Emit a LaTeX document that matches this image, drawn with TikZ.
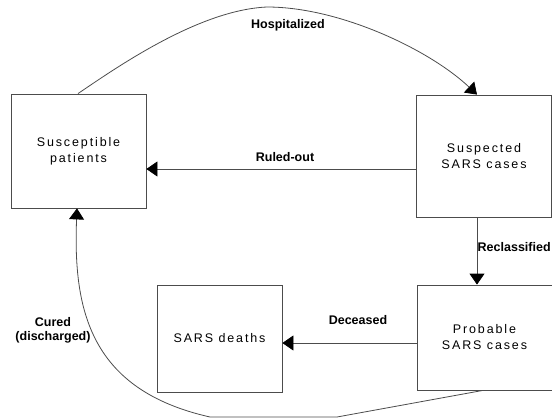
\documentclass[tikz,border=0pt]{standalone}
\usepackage{fontspec}
\setmainfont{Liberation Sans}
\newfontfamily\boxfont[LetterSpace=15]{Liberation Sans}
\usetikzlibrary{arrows.meta}
\begin{document}
\begin{tikzpicture}[x=1pt,y=-1pt,
    state/.style={draw=black!70,line width=0.8pt,inner sep=0pt,align=center,
      font=\boxfont\fontsize{12.5}{16}\selectfont},
    flow/.style={draw=black!70,line width=0.8pt,
      -{Triangle[width=15pt,length=11pt,color=black]}},
    lbl/.style={font=\bfseries\fontsize{12.5}{14}\selectfont,align=center}]
  \useasboundingbox (0,0) rectangle (552,418);
  % compartments
  \node[state,minimum width=135pt,minimum height=114pt] (susc) at (78.5,151) {Susceptible\\patients};
  \node[state,minimum width=135pt,minimum height=122pt] (susp) at (484,156) {Suspected\\SARS cases};
  \node[state,minimum width=135pt,minimum height=105pt] (prob) at (484.5,337.5) {Probable\\SARS cases};
  \node[state,minimum width=125pt,minimum height=107pt] (dead) at (219.5,338.5) {SARS deaths};
  % where the flows meet the boxes
  \coordinate (hospout) at (78,0);   \coordinate (hospin) at (477,0);
  \coordinate (ruled) at (0,169);    \coordinate (decd) at (0,343);
  \coordinate (curout) at (483,0);   \coordinate (curin) at (77,0);
  % flows
  \draw[flow] (susc.north -| hospout) .. controls (120,65) and (200,10) .. (267,7)
    .. controls (340,7) and (430,50) .. (susp.north -| hospin);
  \draw[flow] (susp.west |- ruled) -- (susc.east |- ruled);
  \draw[flow] (susp.south -| hospin) -- (prob.north -| hospin);
  \draw[flow] (prob.west |- decd) -- (dead.east |- decd);
  \draw[flow] (prob.south -| curout) -- (337,417) -- (210,417)
    .. controls (90,390) and (73,310) .. (susc.south -| curin);
  % labels
  \node[lbl] (lhosp) at (288,25) {Hospitalized};
  \node[lbl] (lruled) at (285,157) {Ruled-out};
  \node[lbl,anchor=west,inner sep=0.5pt] (lrecl) at (477,247) {Reclassified};
  \node[lbl] (ldec) at (358,320) {Deceased};
  \node[lbl] (lcur) at (53,330) {Cured\\(discharged)};
\end{tikzpicture}
\end{document}
